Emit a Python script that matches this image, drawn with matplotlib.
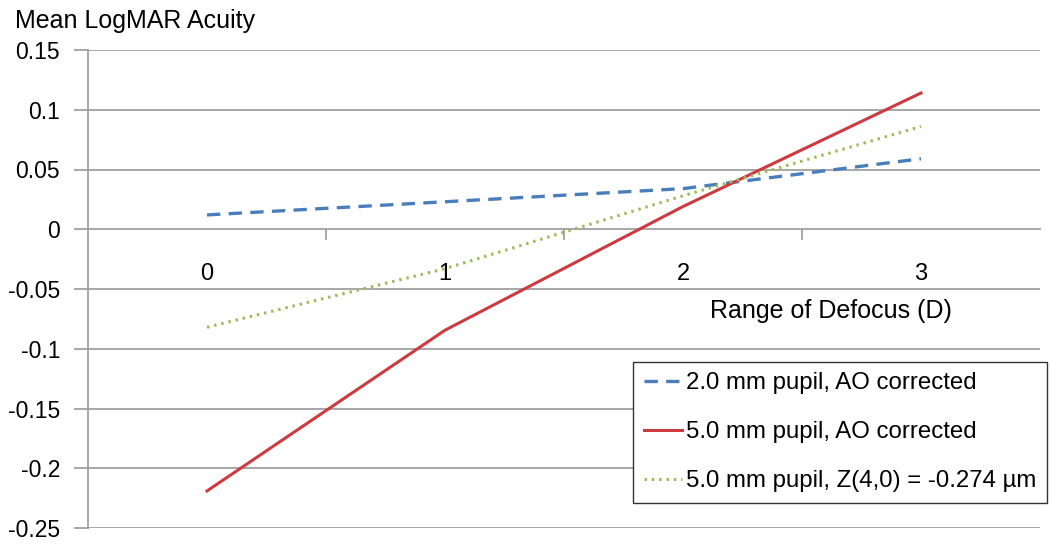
import matplotlib.pyplot as plt
from matplotlib.ticker import FixedLocator

plt.rcParams['font.family'] = ['Liberation Sans', 'DejaVu Sans']

defocus = [0, 1, 2, 3]
ao_2mm = [0.012, 0.023, 0.034, 0.059]
ao_5mm = [-0.219, -0.0845, 0.019, 0.114]
z40_5mm = [-0.082, -0.033, 0.028, 0.086]
labels = ['2.0 mm pupil, AO corrected',
          '5.0 mm pupil, AO corrected',
          '5.0 mm pupil, Z(4,0) = -0.274 \u00b5m']
yticks = [0.15, 0.1, 0.05, 0, -0.05, -0.1, -0.15, -0.2, -0.25]
ytick_labels = ['0.15', '0.1', '0.05', '0', '-0.05', '-0.1', '-0.15', '-0.2', '-0.25']

grid_c = '#a0a0a0'
fig = plt.figure(figsize=(10.5, 5.44), dpi=100)
ax = fig.add_axes([88/1050, 1-528/544, (1040-88)/1050, (528-50)/544])

for v in yticks:
    if v != 0:
        ax.axhline(v, color=grid_c, lw=1.3, zorder=1)

ax.plot(defocus, ao_2mm, color='#4a7ebb', lw=2.4, ls=(0, (4, 2.5)), label=labels[0], zorder=3)
ax.plot(defocus, ao_5mm, color='#cc3b3f', lw=2.2, ls='-', label=labels[1], zorder=3)
ax.plot(defocus, z40_5mm, color='#9bbb59', lw=2.2, ls=(0, (0.8, 1.6)), label=labels[2], zorder=3)

ax.set_xlim(-0.5, 3.5)
ax.set_ylim(-0.25, 0.15)

for s in ['top', 'right']:
    ax.spines[s].set_visible(False)
ax.spines['left'].set_color(grid_c)
ax.spines['left'].set_linewidth(1.3)
ax.spines['bottom'].set_position(('data', 0))
ax.spines['bottom'].set_color(grid_c)
ax.spines['bottom'].set_linewidth(1.3)

ax.set_yticks(yticks)
ax.set_yticklabels(ytick_labels)
ax.tick_params(axis='y', length=10, width=1.3, color=grid_c, pad=10, labelsize=16.5)

ax.set_xticks(defocus)
ax.set_xticklabels([str(d) for d in defocus])
ax.xaxis.set_minor_locator(FixedLocator([0.5, 1.5, 2.5]))
ax.tick_params(axis='x', which='major', length=0, pad=24, labelsize=17)
ax.tick_params(axis='x', which='minor', length=8, width=1.3, color=grid_c, direction='out')

ax.text(0.78, -0.068, 'Range of Defocus (D)', fontsize=18, ha='center', va='center',
        transform=ax.get_yaxis_transform())
fig.text(15/1050, 1-21/544, 'Mean LogMAR Acuity', fontsize=18, ha='left', va='center')

leg = ax.legend(loc='lower right', bbox_to_anchor=(1047/1050, 1-503/544),
                bbox_transform=fig.transFigure, fontsize=17.3, frameon=True,
                fancybox=False, borderaxespad=0, handlelength=1.6, framealpha=1,
                handletextpad=0.15, labelspacing=1.12, borderpad=0.45)
leg.get_frame().set_edgecolor('#333333')
leg.get_frame().set_linewidth(1.0)
leg.set_zorder(5)

fig.savefig('out.png', dpi=100)
